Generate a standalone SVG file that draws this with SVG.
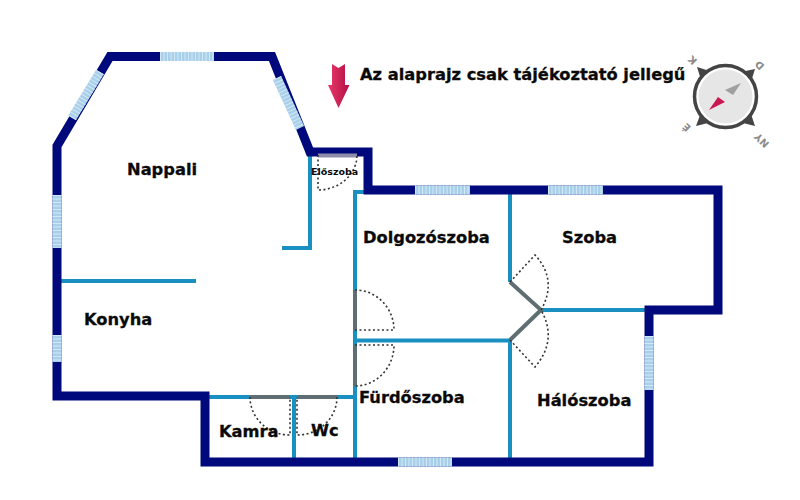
<svg xmlns="http://www.w3.org/2000/svg" width="800" height="500" viewBox="0 0 800 500">
<defs>
<linearGradient id="red" x1="0" x2="1" y1="0" y2="0"><stop offset="0" stop-color="#e8396a"/><stop offset="1" stop-color="#b30f45"/></linearGradient>
</defs>
<style>
.outer{fill:none;stroke:#00097c;stroke-width:9;stroke-linejoin:miter}
.win{stroke:#a9d0ea;stroke-width:9;fill:none}
.hatch{stroke:#d3e7f4;stroke-width:9;stroke-dasharray:1 2.5;fill:none}
.in{fill:none;stroke:#1a8fc1;stroke-width:4;stroke-linejoin:miter}
.door{fill:none;stroke:#5f6e72;stroke-width:4}
.dot{fill:none;stroke:#333;stroke-width:1.600;stroke-dasharray:2 2.5}
text{font-family:"DejaVu Sans",sans-serif;font-weight:bold;fill:#0a0a0a}
.l{font-size:16.300px;stroke:#0a0a0a;stroke-width:.3px}
.c{font-size:10px;fill:#8a8a8a}
</style>
<rect width="800" height="500" fill="#fff"/>
<g id="inner-walls">
<path class="in" d="M310 155V248H282"/>
<path class="in" d="M61 281H196"/>
<path class="in" d="M364 192H355V290M355 330V345M355 386V458"/>
<path class="in" d="M355 340.500H510V458"/>
<path class="in" d="M510 192V282M541 310H645"/>
<path class="in" d="M209 397H250M290 397H297M337 397H355M294 397V458"/>
</g>
<g id="walls">
<path class="outer" d="M110 56.500H272L310 152H368V190H718V310H649V462H205V396H57V146Z"/>
</g>
<g id="windows">
<path class="win" d="M160 56.500H214M100 72L72 118M277 78L300 128M57 195V248M57 335V362M415 190H470M548 190H603M649 336V390M398 462H452"/>
<path class="hatch" d="M160 56.500H214M100 72L72 118M277 78L300 128M57 195V248M57 335V362M415 190H470M548 190H603M649 336V390M398 462H452"/>
</g>
<g id="doors">
<path class="door" d="M355 290V330M355 345V386M510 282L541 310L510 340M250 397H290M297 397H337"/>
<path d="M318 155.500H357" fill="none" stroke="#8f8ca8" stroke-width="4"/>
<path class="dot" d="M355 290A39 40 0 0 1 394 330H355M355 345H394A39 41 0 0 1 355 386"/>
<path class="dot" d="M510 282L535 255Q558 280 541 310M510 340L535 367Q558 340 541 310"/>
<path class="dot" d="M250 397A40 38 0 0 0 290 435V397M337 397A40 38 0 0 1 297 435V397"/>
<path class="dot" d="M318 155V190A39 35 0 0 0 357 155"/>
</g>
<g id="arrow">
<path fill="url(#red)" d="M332 64L338.500 68L345 64V85H349.500L338.500 108L328 85H332Z"/>
</g>
<g id="labels">
<text x="360" y="80" class="l">Az alaprajz csak tájékoztató jellegű</text>
<text x="127" y="175" class="l">Nappali</text>
<text x="311" y="175" font-size="9.500">Előszoba</text>
<text x="363" y="243" class="l">Dolgozószoba</text>
<text x="562" y="243" class="l">Szoba</text>
<text x="84" y="325" class="l">Konyha</text>
<text x="359" y="403" class="l">Fürdőszoba</text>
<text x="537" y="406" class="l">Hálószoba</text>
<text x="219" y="437" class="l">Kamra</text>
<text x="311" y="436" class="l">Wc</text>
</g>
<g id="compass">
<path fill="#444" d="M697 67L716 73L702 83ZM755 69L749 88L736 73ZM696 126L702 110L716 121ZM755 126L735 121L749 108Z"/>
<circle cx="725.500" cy="96.500" r="31" fill="#fff" stroke="#444" stroke-width="3.500"/>
<circle cx="725.500" cy="96.500" r="27" fill="#e6e6e6"/>
<path fill="#c8184f" d="M709 110L718 97L725 102Z"/>
<path fill="#a0a0a0" d="M741 83L725 90L733 95Z"/>
<text class="c" transform="translate(693 60) rotate(225)" text-anchor="middle" dy="3">K</text>
<text class="c" transform="translate(760 65) rotate(225)" text-anchor="middle" dy="3">D</text>
<text class="c" transform="translate(687 127) rotate(225)" text-anchor="middle" dy="3">É</text>
<text class="c" transform="translate(762 140) rotate(225)" text-anchor="middle" dy="3">NY</text>
</g>
</svg>
